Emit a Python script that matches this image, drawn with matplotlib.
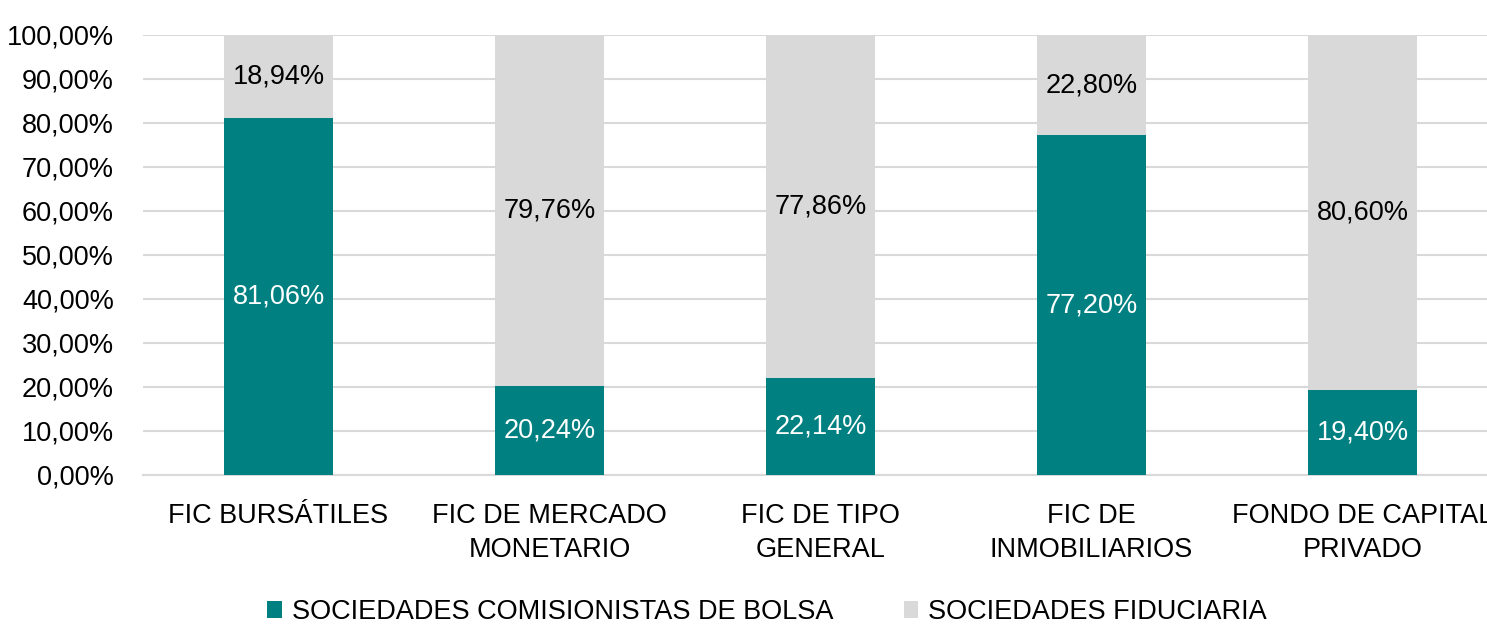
import numpy as np
import matplotlib
matplotlib.use('Agg')
import matplotlib.pyplot as plt
from matplotlib.patches import Patch

# Data
categories = ['FIC BURSÁTILES', 'FIC DE MERCADO\nMONETARIO', 'FIC DE TIPO\nGENERAL',
              'FIC DE\nINMOBILIARIOS', 'FONDO DE CAPITAL\nPRIVADO']
comisionistas = [81.06, 20.24, 22.14, 77.20, 19.40]
fiduciaria = [18.94, 79.76, 77.86, 22.80, 80.60]
series_names = ['SOCIEDADES COMISIONISTAS DE BOLSA', 'SOCIEDADES FIDUCIARIA']
yticks = np.arange(0, 101, 10)

teal = '#008080'
grey = '#D9D9D9'
fs = 19.5

# narrow font if present, otherwise Arial-like
plt.rcParams['font.family'] = ['Liberation Sans Narrow', 'Liberation Sans', 'DejaVu Sans']

W, H = 1487, 624
fig = plt.figure(figsize=(W / 100, H / 100), dpi=100)
ax = fig.add_axes([143 / W, 1 - 475 / H, 1355 / W, 440 / H])

x = np.arange(len(categories))
bw = 0.4
ax.bar(x, comisionistas, width=bw, color=teal, zorder=3)
ax.bar(x, fiduciaria, width=bw, bottom=comisionistas, color=grey, zorder=3)

def fmt(v):
    return '{:.2f}%'.format(v).replace('.', ',')

for i in range(len(categories)):
    ax.text(x[i], comisionistas[i] / 2, fmt(comisionistas[i]), ha='center', va='center',
            color='white', fontsize=fs, zorder=4)
    ax.text(x[i], comisionistas[i] + fiduciaria[i] / 2, fmt(fiduciaria[i]), ha='center',
            va='center', color='black', fontsize=fs, zorder=4)

ax.set_xlim(-0.5, len(categories) - 0.5)
ax.set_ylim(0, 100)
ax.set_yticks(yticks)
ax.set_yticklabels([fmt(v) for v in yticks], fontsize=fs)
ax.set_xticks(x)
ax.set_xticklabels(categories, fontsize=fs, linespacing=1.42)
ax.tick_params(axis='y', length=0, pad=21)
ax.tick_params(axis='x', length=0, pad=20)

ax.yaxis.grid(True, color=grey, linewidth=1.5, zorder=0)
for s in ['top', 'right', 'left']:
    ax.spines[s].set_visible(False)
ax.spines['bottom'].set_color(grey)
ax.spines['bottom'].set_linewidth(1.5)

handles = [Patch(facecolor=teal), Patch(facecolor=grey)]
fig.legend(handles, series_names, loc='center', bbox_to_anchor=(767 / W, 1 - 612 / H),
           ncol=2, frameon=False, fontsize=fs, handlelength=0.55, handleheight=0.55,
           handletextpad=0.35, columnspacing=2.6)

fig.savefig('out.png', dpi=100)
